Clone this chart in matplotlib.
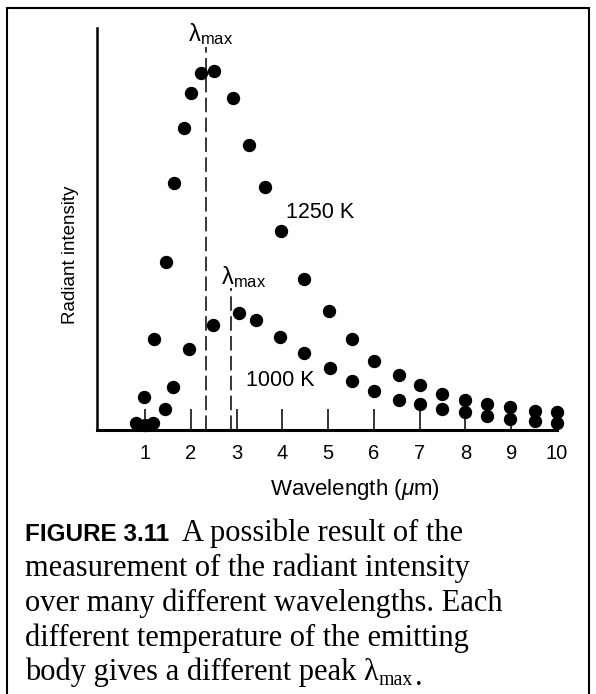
import matplotlib
matplotlib.use('Agg')
import matplotlib.pyplot as plt
from matplotlib.patches import Rectangle

plt.rcParams['font.family'] = ['Liberation Sans', 'DejaVu Sans']
plt.rcParams['mathtext.fontset'] = 'custom'
plt.rcParams['mathtext.rm'] = 'Liberation Sans'
plt.rcParams['mathtext.it'] = 'Liberation Sans:italic'

# Data (intensity in arbitrary units)
wl_1250 = [0.8, 0.98, 1.2, 1.46, 1.63, 1.85, 2.0, 2.22, 2.51, 2.93, 3.28, 3.63,
           3.98, 4.48, 5.02, 5.52, 6.0, 6.54, 7.0, 7.49, 7.98, 8.48, 8.98, 9.52, 10.0]
int_1250 = [1.8, 8.3, 22.6, 41.8, 61.5, 75.2, 83.8, 88.7, 89.4, 82.5, 70.9, 60.4,
            49.4, 37.5, 29.6, 22.7, 17.2, 13.8, 11.3, 9.0, 7.5, 6.5, 5.6, 4.8, 4.5]

wl_1000 = [1.0, 1.18, 1.44, 1.6, 1.97, 2.49, 3.05, 3.43, 3.95, 4.47, 5.04, 5.52,
           6.0, 6.54, 7.0, 7.49, 7.98, 8.48, 8.98, 9.52, 10.0]
int_1000 = [1.2, 1.8, 5.1, 10.8, 20.1, 26.2, 29.2, 27.4, 23.1, 19.2, 15.4, 12.2,
            9.7, 7.5, 6.4, 5.2, 4.4, 3.6, 2.7, 2.2, 1.7]

peak_wl = [2.33, 2.88]
peak_top = [95.3, 35.3]
peak_label_pos = [(2.44, 98.6), (3.16, 38.0)]

temp_labels = ['1250 K', '1000 K']
temp_label_pos = [(4.07, 54.2), (3.2, 12.4)]

x_ticks = list(range(1, 11))

caption_head = 'FIGURE 3.11'
caption_lines = ['A possible result of the',
                 'measurement of the radiant intensity',
                 'over many different wavelengths. Each',
                 'different temperature of the emitting',
                 'body gives a different peak λ']

W, H = 596, 694
fig = plt.figure(figsize=(W / 100, H / 100), dpi=100)
ax = fig.add_axes([97 / W, 1 - 430 / H, (557 - 97) / W, (430 - 28) / H])

ax.plot(wl_1250, int_1250, 'o', color='black', ms=8.6, clip_on=False, zorder=3)
ax.plot(wl_1000, int_1000, 'o', color='black', ms=8.6, clip_on=False, zorder=3)

for xp, top in zip(peak_wl, peak_top):
    ax.plot([xp, xp], [0, top], color='black', lw=1.1, ls=(0, (9.5, 3.5)), zorder=2)
for (lx, ly) in peak_label_pos:
    ax.text(lx, ly, r'$\mathrm{\lambda}_{\mathrm{max}}$', fontsize=17,
            ha='center', va='center')

for lab, (lx, ly) in zip(temp_labels, temp_label_pos):
    ax.text(lx, ly, lab, fontsize=15.5, ha='left', va='center')

ax.set_xlim(-0.05, 10.0)
ax.set_ylim(0, 100)
ax.set_xticks(x_ticks)
ax.set_yticks([])
ax.tick_params(axis='x', direction='in', length=15, width=1.1, pad=10, labelsize=14.5)
for s in ['top', 'right']:
    ax.spines[s].set_visible(False)
ax.spines['left'].set_linewidth(1.8)
ax.spines['bottom'].set_linewidth(2.2)

ax.set_xlabel(r'Wavelength ($\mu$m)', fontsize=16, labelpad=10, x=0.561)
ax.set_ylabel('Radiant intensity', fontsize=13.5, labelpad=13, y=0.435)

# frame around the whole figure (bottom edge falls outside the picture)
fig.patches.append(Rectangle((7 / W, -0.05), (589 - 7) / W, 1.05 - 8 / H,
                             transform=fig.transFigure, fill=False,
                             edgecolor='black', lw=1.5))

# caption
fig.canvas.draw()
r = fig.canvas.get_renderer()
cap_size = 22
serif = ['Liberation Serif', 'DejaVu Serif']
x0 = 25 / W
baselines = [541, 576, 611, 646, 680]

head = fig.text(x0, 1 - baselines[0] / H, caption_head, fontsize=17.5,
                fontweight='bold', va='baseline')
bb = head.get_window_extent(r)
fig.text(bb.x1 / W + 13 / W, 1 - baselines[0] / H, caption_lines[0],
         fontsize=cap_size, family=serif, va='baseline')
for line, yb in zip(caption_lines[1:], baselines[1:]):
    t = fig.text(x0, 1 - yb / H, line, fontsize=cap_size, family=serif, va='baseline')
bb = t.get_window_extent(r)
sub = fig.text(bb.x1 / W, 1 - (baselines[-1] + 5) / H, 'max', fontsize=cap_size * 0.65,
               family=serif, va='baseline')
bb = sub.get_window_extent(r)
fig.text(bb.x1 / W + 2 / W, 1 - (baselines[-1] + 5) / H, '.', fontsize=cap_size,
         family=serif, va='baseline')

fig.savefig('out.png', dpi=100)
